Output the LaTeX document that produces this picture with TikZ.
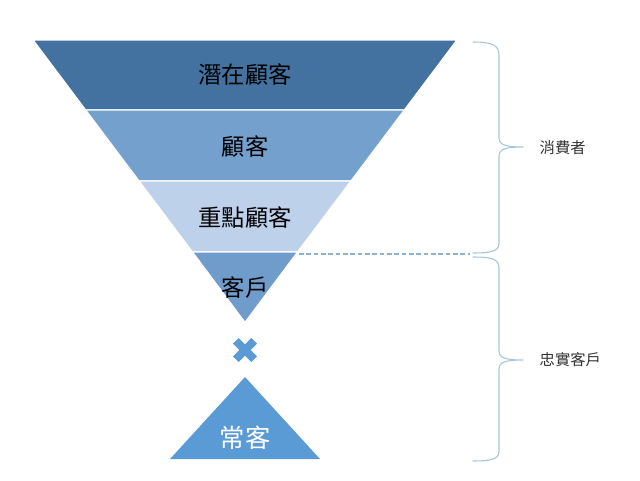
\documentclass[tikz,border=0pt]{standalone}
\usepackage{fontspec}
\newfontfamily\cjk{Noto Sans CJK TC}
\definecolor{bandA}{RGB}{68,114,160}
\definecolor{bandB}{RGB}{116,160,206}
\definecolor{bandC}{RGB}{190,209,235}
\definecolor{bandD}{RGB}{112,156,204}
\definecolor{accent}{RGB}{91,155,213}
\definecolor{bracegray}{RGB}{168,196,216}
\definecolor{dashblue}{RGB}{140,178,212}
\definecolor{labelgray}{RGB}{50,50,50}

\begin{document}
\begin{tikzpicture}[x=0.75pt,y=-0.75pt,
    band/.style={draw=white, line width=1pt},
    bigtext/.style={font=\cjk\fontsize{17.5}{20}\selectfont},
    sidetext/.style={font=\cjk\fontsize{11.5}{14}\selectfont, text=labelgray, anchor=west},
    curly/.style={draw=bracegray, line width=.8pt, line cap=round, line join=round}]

        \useasboundingbox (0,0) rectangle (640,480);

        \fill[bandA, band] (33,40)    -- (457,40)    -- (404.4,110) -- (85.6,110) -- cycle;
        \fill[bandB, band] (85.6,110) -- (404.4,110) -- (351,181)   -- (139,181)  -- cycle;
        \fill[bandC, band] (139,181)  -- (351,181)   -- (297.6,252) -- (192.4,252) -- cycle;
        \fill[bandD, band] (192.4,252) -- (297.6,252) -- (245,322.5) -- cycle;

        \draw[accent, line width=6pt] (235.8,340.8) -- (254.2,359.2)
                                      (235.8,359.2) -- (254.2,340.8);
        \fill[accent] (245,377) -- (320,459) -- (170,459) -- cycle;

        \begin{scope}[every node/.style={bigtext}]
          \node (1) at (245,75)  {潛在顧客};
          \node (2) at (245,147) {顧客};
          \node (3) at (245,218) {重點顧客};
          \node (4) at (245,288) {客戶};
          \node[text=white, font=\cjk\fontsize{19}{22}\selectfont] (5) at (245,438) {常客};
        \end{scope}

        \coordinate (d1) at (299,254);
        \coordinate (d2) at (470,254);
        \draw[dashblue, line width=.8pt, dash pattern=on 3.5pt off 2pt] (d1) -- (d2);

        \draw[curly] (473,42) .. controls (492,42) and (499,45) .. (499,55)
                     -- (499,138) .. controls (499,145) and (506,147) .. (523,147)
                     .. controls (506,147) and (499,149) .. (499,156)
                     -- (499,243) .. controls (499,251) and (492,253) .. (473,253);
        \draw[curly] (473,257) .. controls (492,257) and (499,259) .. (499,268)
                     -- (499,351) .. controls (499,358) and (506,360) .. (523,360)
                     .. controls (506,360) and (499,362) .. (499,369)
                     -- (499,451) .. controls (499,459) and (492,461) .. (473,461);

        \node[sidetext] (6) at (535,148) {消費者};
        \node[sidetext] (7) at (535,360) {忠實客戶};

      \end{tikzpicture}
\end{document}
